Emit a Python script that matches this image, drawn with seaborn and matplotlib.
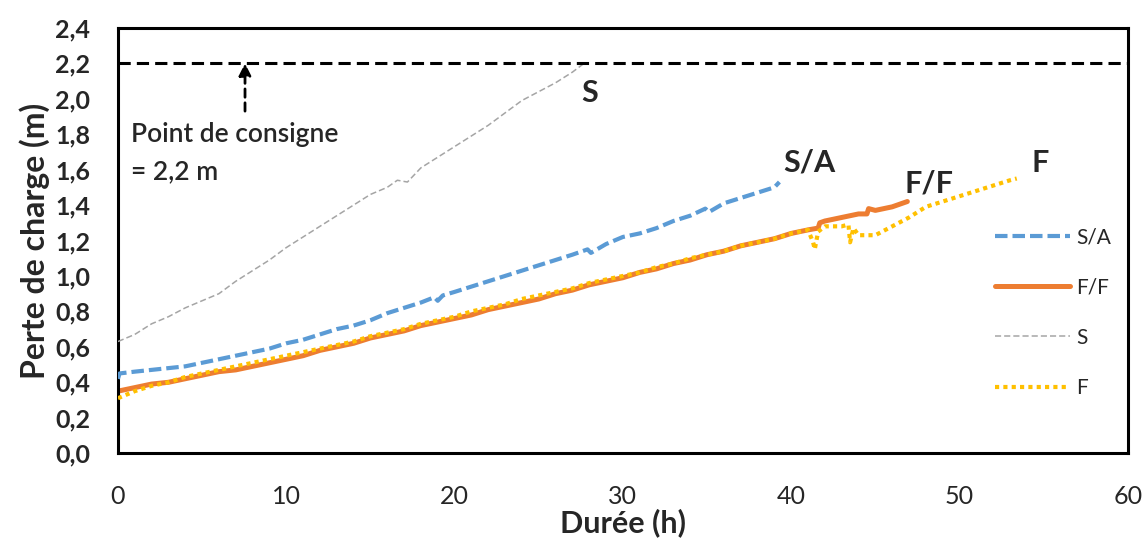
import numpy as np
import pandas as pd
import seaborn as sns
import matplotlib
matplotlib.use("Agg")
import matplotlib.pyplot as plt

# ---------------- data ----------------
s_x = [0, 1, 2, 3, 4, 5, 6, 7, 8, 9, 10, 11, 12, 13, 14, 15, 16, 16.6, 17.2, 18, 19, 20,
       21, 22, 23, 24, 25, 26, 27, 27.7]
s_y = [0.63, 0.67, 0.73, 0.77, 0.82, 0.86, 0.90, 0.97, 1.03, 1.09, 1.16, 1.22, 1.28, 1.34,
       1.40, 1.46, 1.50, 1.54, 1.53, 1.61, 1.67, 1.73, 1.79, 1.85, 1.92, 1.99, 2.04, 2.09,
       2.15, 2.20]

sa_x = [0, 0.1, 1, 2, 3, 4, 5, 6, 7, 8, 9, 10, 11, 12, 13, 14, 15, 16, 17, 18, 18.8, 19,
        19.3, 20, 21, 22, 23, 24, 25, 26, 27, 27.9, 28.1, 29, 30, 31, 32, 33, 34, 34.9, 35.1,
        36, 37, 38, 39, 39.3]
sa_y = [0.42, 0.45, 0.46, 0.47, 0.48, 0.49, 0.51, 0.53, 0.55, 0.57, 0.59, 0.62, 0.64, 0.67,
        0.70, 0.72, 0.75, 0.79, 0.82, 0.85, 0.88, 0.86, 0.89, 0.91, 0.94, 0.97, 1.00, 1.03,
        1.06, 1.09, 1.12, 1.15, 1.13, 1.18, 1.22, 1.24, 1.27, 1.31, 1.34, 1.38, 1.36, 1.41,
        1.44, 1.47, 1.50, 1.53]

ff_x = [0, 1, 2, 3, 4, 5, 6, 7, 8, 9, 10, 11, 12, 13, 14, 15, 16, 17, 18, 19, 20, 21, 22,
        23, 24, 25, 26, 27, 28, 29, 30, 31, 32, 33, 34, 35, 36, 37, 38, 39, 40, 41, 41.6,
        41.7, 42, 43, 44, 44.5, 44.6, 45, 46, 46.9]
ff_y = [0.35, 0.37, 0.39, 0.40, 0.42, 0.44, 0.46, 0.47, 0.49, 0.51, 0.53, 0.55, 0.58, 0.60,
        0.62, 0.65, 0.67, 0.69, 0.72, 0.74, 0.76, 0.78, 0.81, 0.83, 0.85, 0.87, 0.90, 0.92,
        0.95, 0.97, 0.99, 1.02, 1.04, 1.07, 1.09, 1.12, 1.14, 1.17, 1.19, 1.21, 1.24, 1.26,
        1.27, 1.30, 1.31, 1.33, 1.35, 1.35, 1.38, 1.37, 1.39, 1.42]

f_x = [0, 1, 2, 3, 4, 5, 6, 7, 8, 9, 10, 11, 12, 13, 14, 15, 16, 17, 18, 19, 20, 21, 22,
       23, 24, 25, 26, 27, 28, 29, 30, 31, 32, 33, 34, 35, 36, 37, 38, 39, 40, 41, 41.3,
       41.4, 41.6, 42, 43, 43.4, 43.5, 43.7, 44, 45, 46, 47, 48, 49, 50, 51, 52, 53, 53.4]
f_y = [0.31, 0.35, 0.38, 0.40, 0.43, 0.45, 0.47, 0.49, 0.51, 0.53, 0.55, 0.57, 0.59, 0.61,
       0.63, 0.66, 0.68, 0.70, 0.73, 0.75, 0.77, 0.80, 0.82, 0.84, 0.87, 0.89, 0.91, 0.93,
       0.96, 0.98, 1.00, 1.02, 1.05, 1.07, 1.10, 1.12, 1.14, 1.17, 1.19, 1.21, 1.24, 1.26,
       1.19, 1.15, 1.25, 1.28, 1.28, 1.29, 1.19, 1.27, 1.23, 1.23, 1.28, 1.33, 1.39, 1.42,
       1.45, 1.48, 1.51, 1.54, 1.55]

x_ticks = [0, 10, 20, 30, 40, 50, 60]
y_ticks = [0.0, 0.2, 0.4, 0.6, 0.8, 1.0, 1.2, 1.4, 1.6, 1.8, 2.0, 2.2, 2.4]
setpoint = 2.2

# ---------------- figure ----------------
sns.set_style("white")
plt.rcParams["font.family"] = ["Lato", "DejaVu Sans"]

fig = plt.figure(figsize=(11.45, 5.46), dpi=100)
ax = fig.add_axes([0.103, 0.170, 0.882, 0.779])

series = [
    ("S/A", sa_x, sa_y, "#5B9BD5", (0, (3, 1.2)), 3.0, 3),
    ("F/F", ff_x, ff_y, "#ED7D31", "-", 3.6, 2),
    ("S", s_x, s_y, "#A5A5A5", (0, (4, 2)), 1.1, 3),
    ("F", f_x, f_y, "#FFC000", (0, (1, 1)), 3.0, 4),
]
for name, xs, ys, col, ls, lw, z in series:
    df = pd.DataFrame({"x": xs, "y": ys})
    sns.lineplot(data=df, x="x", y="y", ax=ax, color=col, linestyle=ls, linewidth=lw,
                 label=name, sort=False, estimator=None, zorder=z)

# set point line and arrow
ax.axhline(setpoint, color="black", linestyle=(0, (4, 2)), linewidth=2.2, zorder=5)
ax.annotate("", xy=(7.55, setpoint), xytext=(7.55, 1.93),
            arrowprops=dict(arrowstyle="-|>", linestyle=(0, (3, 2)), color="black",
                            lw=2, mutation_scale=18, shrinkA=0, shrinkB=0))
ax.text(0.8, 1.80, "Point de consigne", fontsize=19, fontweight="semibold", ha="left",
        va="center")
ax.text(0.8, 1.59, "= 2,2 m", fontsize=19, fontweight="semibold", ha="left", va="center")

# series labels
ax.text(28.0, 2.03, "S", fontsize=22, fontweight="bold", ha="center", va="center")
ax.text(41.1, 1.64, "S/A", fontsize=22, fontweight="bold", ha="center", va="center")
ax.text(48.2, 1.52, "F/F", fontsize=22, fontweight="bold", ha="center", va="center")
ax.text(54.8, 1.64, "F", fontsize=22, fontweight="bold", ha="center", va="center")

ax.set_xlim(0, 60)
ax.set_ylim(0, 2.4)
ax.set_xticks(x_ticks)
ax.set_yticks(y_ticks)
ax.set_xticklabels([str(v) for v in x_ticks], fontsize=18)
ax.set_yticklabels([f"{v:.1f}".replace(".", ",") for v in y_ticks], fontsize=18,
                   fontweight="bold")
ax.set_xlabel("Durée (h)", fontsize=22, fontweight="bold", labelpad=0)
ax.set_ylabel("Perte de charge (m)", fontsize=23, fontweight="bold", labelpad=4)
ax.tick_params(axis="both", direction="out", length=7, width=2, color="black")
ax.tick_params(axis="x", pad=16)
ax.tick_params(axis="y", pad=13)
for sp in ax.spines.values():
    sp.set_visible(True)
    sp.set_color("black")
    sp.set_linewidth(2.2)

leg = ax.legend(loc="upper left", bbox_to_anchor=(0.85, 0.575), frameon=False,
                fontsize=15, labelspacing=1.45, handlelength=3.6, handletextpad=0.3)

fig.savefig("out.png", dpi=100)
